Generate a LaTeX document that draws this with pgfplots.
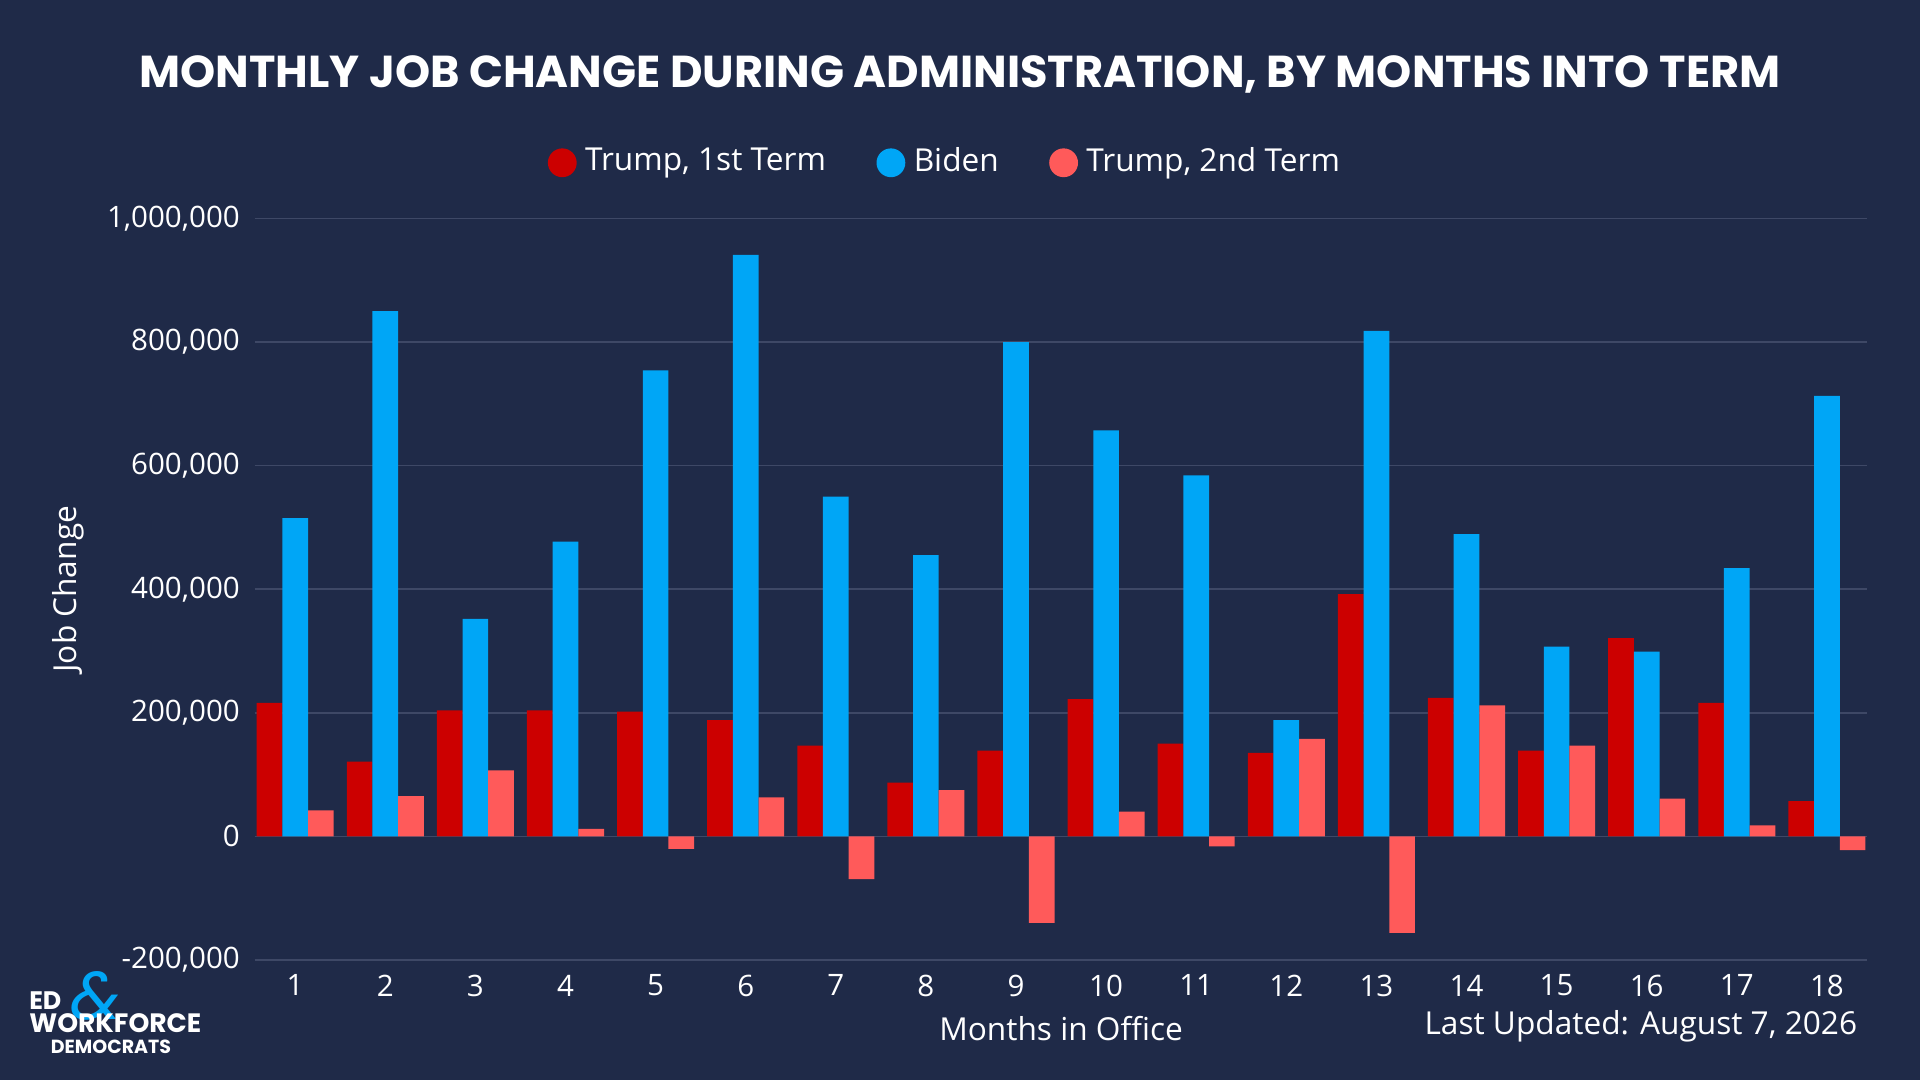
\documentclass[border=0pt]{standalone}
\usepackage{pgfplots}
\pgfplotsset{compat=1.18}
\usepackage{fontspec}
\setmainfont{Poppins}
\newfontfamily\bodyfont{Open Sans}
\definecolor{bg}{HTML}{1F2A48}
\definecolor{tone}{HTML}{CC0000}
\definecolor{bid}{HTML}{00A6F6}
\definecolor{ttwo}{HTML}{FF5A5A}
\definecolor{gridc}{HTML}{3E4866}
\begin{document}
\begin{tikzpicture}
\useasboundingbox (0,0) rectangle (16cm,9cm);
\fill[bg] (0,0) rectangle (16cm,9cm);
\node[text=white,font=\fontsize{10.6}{12}\selectfont\bfseries] at (8.0cm,8.38cm) {MONTHLY JOB CHANGE DURING ADMINISTRATION, BY MONTHS INTO TERM};
\begin{axis}[
  at={(2.122cm,1.0cm)}, anchor=south west, scale only axis,
  width=13.44cm, height=6.18cm,
  ybar=0pt, bar width=0.214cm,
  xmin=0.55, xmax=18.45, ymin=-200000, ymax=1000000,
  xtick={1,...,18}, ytick={-200000,0,200000,400000,600000,800000,1000000},
  scaled y ticks=false,
  yticklabel style={/pgf/number format/fixed,/pgf/number format/1000 sep={,},/pgf/number format/assume math mode=true},
  ticklabel style={text=white,font=\bodyfont\fontsize{7}{9}\selectfont},
  xticklabel style={/pgf/number format/assume math mode=true},
  axis line style={draw=none}, major tick length=0pt,
  ymajorgrids, grid style={gridc,line width=0.4pt},
  axis background/.style={fill=bg},
  xlabel={Months in Office}, ylabel={Job Change},
  label style={text=white,font=\bodyfont\fontsize{7.5}{9}\selectfont},
  xlabel style={yshift=0.08cm}, ylabel style={yshift=-0.05cm},
  legend style={at={(0.43,1.075)},anchor=center,draw=none,fill=none,text=white,font=\bodyfont\fontsize{7.5}{9}\selectfont,legend columns=3,/tikz/every even column/.append style={column sep=0.35cm}},
  legend image code/.code={\fill[#1,draw=none] (0.12cm,0) circle (0.12cm);},
]
\addplot[fill=tone,draw=none] coordinates {(1,216000)(2,121000)(3,204000)(4,204000)(5,202000)(6,188000)(7,147000)(8,87000)(9,139000)(10,222000)(11,150000)(12,135000)(13,392000)(14,224000)(15,139000)(16,321000)(17,216000)(18,57000)};
\addplot[fill=bid,draw=none] coordinates {(1,515000)(2,850000)(3,352000)(4,477000)(5,754000)(6,941000)(7,550000)(8,455000)(9,800000)(10,657000)(11,584000)(12,188000)(13,818000)(14,489000)(15,307000)(16,299000)(17,434000)(18,713000)};
\addplot[fill=ttwo,draw=none] coordinates {(1,42000)(2,65000)(3,107000)(4,12000)(5,-20000)(6,63000)(7,-69000)(8,75000)(9,-140000)(10,40000)(11,-16000)(12,158000)(13,-156000)(14,212000)(15,147000)(16,61000)(17,18000)(18,-22000)};
\legend{{Trump, 1st Term},{Biden},{Trump, 2nd Term}}
\end{axis}
\node[text=white,anchor=east,font=\bodyfont\fontsize{7.5}{9}\selectfont] at (15.6cm,0.45cm) {Last Updated: August 7, 2026};
\node[text=bid,font=\fontsize{16}{16}\selectfont\itshape] at (0.8cm,0.7cm) {\&};
\node[text=white,anchor=west,font=\fontsize{6}{6}\selectfont\bfseries] at (0.12cm,0.66cm) {ED};
\node[text=white,anchor=west,font=\fontsize{6.3}{6.3}\selectfont\bfseries] at (0.12cm,0.47cm) {WORKFORCE};
\node[text=white,anchor=west,font=\fontsize{4.5}{5}\selectfont\bfseries] at (0.3cm,0.28cm) {DEMOCRATS};
\end{tikzpicture}
\end{document}
